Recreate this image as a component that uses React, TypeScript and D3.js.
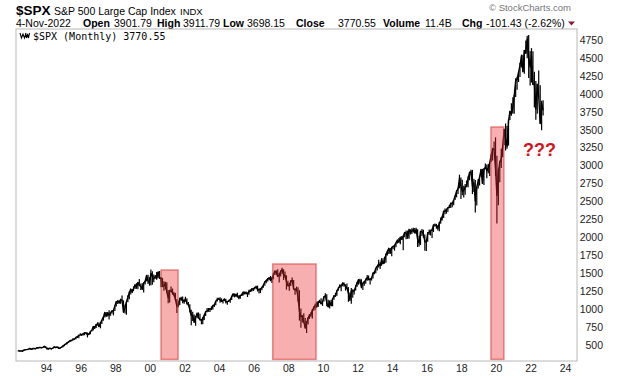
import React from "react";
import * as d3 from "d3";

// Monthly data starting July 1992 (S&P 500, $SPX)
const START_YEAR = 1992;
const START_MONTH = 6; // July (0-based)

const closes = [
  424.2, 414.0, 417.8, 418.7, 431.4, 435.7,
  438.8, 443.4, 451.7, 440.2, 450.2, 450.5, 448.1, 463.6, 458.9, 467.8, 461.8, 466.5,
  481.6, 467.1, 445.8, 450.9, 456.5, 444.3, 458.3, 475.5, 462.7, 472.4, 453.7, 459.3,
  470.4, 487.4, 500.7, 514.7, 533.4, 544.8, 562.1, 561.9, 584.4, 581.5, 605.4, 615.9,
  636.0, 640.4, 645.5, 654.2, 669.1, 670.6, 639.9, 652.0, 687.3, 705.3, 757.0, 740.7,
  786.2, 790.8, 757.1, 801.3, 848.3, 885.1, 954.3, 899.5, 947.3, 914.6, 955.4, 970.4,
  980.3, 1049.3, 1101.8, 1111.8, 1090.8, 1133.8, 1120.7, 957.3, 1017.0, 1098.7, 1163.6, 1229.2,
  1279.6, 1238.3, 1286.4, 1335.2, 1301.8, 1372.7, 1328.7, 1320.4, 1282.7, 1362.9, 1388.9, 1469.3,
  1394.5, 1366.4, 1498.6, 1452.4, 1420.6, 1454.6, 1430.8, 1517.7, 1436.5, 1429.4, 1315.2, 1320.3,
  1366.0, 1239.9, 1160.3, 1249.5, 1255.8, 1224.4, 1211.2, 1133.6, 1040.9, 1059.8, 1139.5, 1148.1,
  1130.2, 1106.7, 1147.4, 1076.9, 1067.1, 989.8, 911.6, 916.1, 815.3, 885.8, 936.3, 879.8,
  855.7, 841.2, 848.2, 916.9, 963.6, 974.5, 990.3, 1008.0, 996.0, 1050.7, 1058.2, 1111.9,
  1131.1, 1144.9, 1126.2, 1107.3, 1120.7, 1140.8, 1101.7, 1104.2, 1114.6, 1130.2, 1173.8, 1211.9,
  1181.3, 1203.6, 1180.6, 1156.9, 1191.5, 1191.3, 1234.2, 1220.3, 1228.8, 1207.0, 1249.5, 1248.3,
  1280.1, 1280.7, 1294.8, 1310.6, 1270.1, 1270.2, 1276.7, 1303.8, 1335.9, 1377.9, 1400.6, 1418.3,
  1438.2, 1406.8, 1420.9, 1482.4, 1530.6, 1503.4, 1455.3, 1474.0, 1526.8, 1549.4, 1481.1, 1468.4,
  1378.6, 1330.6, 1322.7, 1385.6, 1400.4, 1280.0, 1267.4, 1282.8, 1166.4, 968.8, 896.2, 903.3,
  825.9, 735.1, 797.9, 872.8, 919.1, 919.3, 987.5, 1020.6, 1057.1, 1036.2, 1095.6, 1115.1,
  1073.9, 1104.5, 1169.4, 1186.7, 1089.4, 1030.7, 1101.6, 1049.3, 1141.2, 1183.3, 1180.6, 1257.6,
  1286.1, 1327.2, 1325.8, 1363.6, 1345.2, 1320.6, 1292.3, 1218.9, 1131.4, 1253.3, 1247.0, 1257.6,
  1312.4, 1365.7, 1408.5, 1397.9, 1310.3, 1362.2, 1379.3, 1406.6, 1440.7, 1412.2, 1416.2, 1426.2,
  1498.1, 1514.7, 1569.2, 1597.6, 1630.7, 1606.3, 1685.7, 1633.0, 1681.6, 1756.5, 1805.8, 1848.4,
  1782.6, 1859.5, 1872.3, 1884.0, 1923.6, 1960.2, 1930.7, 2003.4, 1972.3, 2018.1, 2067.6, 2058.9,
  1995.0, 2104.5, 2067.9, 2085.5, 2107.4, 2063.1, 2103.8, 1972.2, 1920.0, 2079.4, 2080.4, 2043.9,
  1940.2, 1932.2, 2059.7, 2065.3, 2097.0, 2098.9, 2173.6, 2171.0, 2168.3, 2126.2, 2198.8, 2238.8,
  2278.9, 2363.6, 2362.7, 2384.2, 2411.8, 2423.4, 2470.3, 2471.7, 2519.4, 2575.3, 2647.6, 2673.6,
  2823.8, 2713.8, 2640.9, 2648.1, 2705.3, 2718.4, 2816.3, 2901.5, 2914.0, 2711.7, 2760.2, 2506.9,
  2704.1, 2784.5, 2834.4, 2945.8, 2752.1, 2941.8, 2980.4, 2926.5, 2976.7, 3037.6, 3141.0, 3230.8,
  3225.5, 2954.2, 2584.6, 2912.4, 3044.3, 3100.3, 3271.1, 3500.3, 3363.0, 3270.0, 3621.6, 3756.1,
  3714.2, 3811.2, 3972.9, 4181.2, 4204.1, 4297.5, 4395.3, 4522.7, 4307.5, 4605.4, 4567.0, 4766.2,
  4515.6, 4373.9, 4530.4, 4131.9, 4132.2, 3785.4, 4130.3, 3955.0, 3585.6, 3872.0, 3770.55,
];

const highs = [
  425, 425, 422, 419, 432, 442,
  442, 448, 456, 452, 455, 454, 451, 464, 463, 471, 470, 471,
  482, 482, 468, 453, 458, 459, 461, 477, 476, 474, 474, 464,
  473, 490, 505, 515, 535, 552, 564, 565, 586, 587, 608, 622,
  637, 665, 658, 664, 679, 675, 674, 668, 690, 708, 758, 765,
  791, 818, 815, 812, 849, 894, 956, 961, 961, 983, 960, 986,
  992, 1050, 1113, 1124, 1122, 1145, 1190, 1122, 1066, 1104, 1192, 1245,
  1280, 1281, 1317, 1346, 1362, 1373, 1419, 1356, 1361, 1373, 1397, 1473,
  1478, 1445, 1553, 1528, 1481, 1477, 1518, 1519, 1530, 1449, 1436, 1390,
  1383, 1376, 1268, 1269, 1316, 1287, 1239, 1226, 1140, 1111, 1163, 1173,
  1176, 1131, 1173, 1148, 1099, 1068, 990, 965, 924, 903, 954, 954,
  935, 865, 895, 919, 966, 1015, 1016, 1012, 1040, 1054, 1063, 1112,
  1159, 1159, 1164, 1150, 1128, 1146, 1143, 1110, 1132, 1142, 1188, 1218,
  1218, 1213, 1229, 1192, 1200, 1219, 1245, 1246, 1244, 1233, 1271, 1276,
  1295, 1297, 1311, 1326, 1327, 1290, 1291, 1310, 1341, 1389, 1407, 1432,
  1441, 1462, 1444, 1499, 1535, 1541, 1556, 1504, 1539, 1576, 1555, 1523,
  1471, 1396, 1369, 1405, 1440, 1404, 1292, 1314, 1304, 1264, 1007, 919,
  943, 876, 832, 888, 930, 956, 993, 1039, 1080, 1101, 1113, 1130,
  1150, 1113, 1180, 1220, 1206, 1132, 1120, 1130, 1148, 1196, 1227, 1263,
  1303, 1345, 1333, 1370, 1371, 1346, 1357, 1307, 1230, 1293, 1277, 1270,
  1334, 1378, 1420, 1422, 1415, 1363, 1392, 1427, 1475, 1470, 1434, 1448,
  1510, 1530, 1570, 1598, 1687, 1654, 1710, 1710, 1730, 1775, 1813, 1849,
  1851, 1867, 1884, 1897, 1925, 1968, 1991, 2005, 2019, 2019, 2076, 2094,
  2094, 2120, 2114, 2126, 2135, 2130, 2133, 2113, 2021, 2094, 2117, 2105,
  2039, 1963, 2073, 2111, 2104, 2121, 2178, 2194, 2188, 2169, 2214, 2278,
  2301, 2372, 2401, 2399, 2419, 2454, 2484, 2491, 2519, 2582, 2658, 2695,
  2873, 2835, 2802, 2718, 2742, 2791, 2849, 2916, 2941, 2940, 2816, 2800,
  2708, 2813, 2861, 2949, 2954, 2965, 3028, 3014, 3022, 3050, 3155, 3248,
  3337, 3394, 3137, 2955, 3068, 3233, 3280, 3514, 3588, 3550, 3646, 3760,
  3870, 3951, 3983, 4218, 4238, 4302, 4429, 4546, 4546, 4609, 4744, 4809,
  4819, 4595, 4637, 4594, 4309, 4178, 4140, 4325, 4119, 3905, 3912,
];

const lows = [
  408, 410, 407, 402, 416, 425,
  427, 431, 437, 437, 437, 442, 441, 447, 453, 458, 454, 460,
  464, 465, 436, 434, 442, 441, 444, 457, 460, 459, 449, 445,
  459, 468, 484, 499, 510, 531, 542, 552, 561, 572, 581, 597,
  594, 634, 627, 631, 636, 658, 605, 638, 650, 689, 703, 724,
  737, 773, 755, 733, 793, 837, 882, 896, 898, 855, 908, 934,
  912, 975, 1037, 1073, 1074, 1074, 1110, 957, 940, 923, 1095, 1136,
  1205, 1224, 1252, 1282, 1283, 1278, 1325, 1268, 1268, 1233, 1343, 1387,
  1350, 1326, 1333, 1339, 1373, 1422, 1410, 1431, 1420, 1305, 1315, 1255,
  1274, 1228, 1081, 1091, 1244, 1200, 1181, 1124, 945, 1026, 1054, 1114,
  1081, 1074, 1106, 1063, 1048, 953, 776, 833, 815, 768, 872, 871,
  841, 788, 789, 847, 904, 957, 962, 960, 996, 996, 1031, 1055,
  1106, 1133, 1087, 1107, 1077, 1113, 1078, 1060, 1099, 1090, 1127, 1173,
  1163, 1170, 1163, 1137, 1146, 1188, 1191, 1202, 1206, 1168, 1200, 1245,
  1245, 1253, 1272, 1286, 1245, 1219, 1224, 1263, 1297, 1327, 1361, 1386,
  1403, 1390, 1364, 1416, 1475, 1484, 1451, 1371, 1454, 1490, 1407, 1436,
  1271, 1316, 1257, 1322, 1373, 1272, 1200, 1248, 1107, 840, 741, 815,
  805, 732, 667, 784, 863, 888, 870, 978, 991, 1019, 1029, 1086,
  1071, 1045, 1105, 1173, 1040, 1029, 1010, 1040, 1039, 1131, 1173, 1187,
  1257, 1295, 1249, 1317, 1311, 1258, 1282, 1102, 1114, 1074, 1158, 1202,
  1259, 1312, 1340, 1358, 1292, 1267, 1325, 1355, 1396, 1403, 1343, 1398,
  1426, 1485, 1501, 1537, 1581, 1560, 1604, 1627, 1633, 1647, 1746, 1767,
  1770, 1737, 1834, 1815, 1862, 1915, 1931, 1905, 1964, 1821, 2001, 1973,
  1981, 1980, 2040, 2048, 2067, 2057, 2045, 1867, 1872, 1893, 2019, 1994,
  1812, 1810, 1937, 2034, 2026, 1992, 2075, 2147, 2120, 2097, 2084, 2188,
  2234, 2271, 2322, 2329, 2353, 2405, 2408, 2418, 2447, 2520, 2557, 2605,
  2683, 2533, 2585, 2554, 2594, 2698, 2698, 2796, 2865, 2603, 2631, 2346,
  2443, 2681, 2722, 2848, 2750, 2728, 2952, 2822, 2892, 2856, 3050, 3070,
  3214, 2855, 2192, 2447, 2767, 2966, 3115, 3284, 3209, 3234, 3280, 3634,
  3695, 3725, 3723, 3956, 4057, 4165, 4234, 4368, 4305, 4279, 4560, 4495,
  4222, 4115, 4157, 4124, 3811, 3637, 3721, 3955, 3584, 3492, 3698,
];

const yTicks = [500, 750, 1000, 1250, 1500, 1750, 2000, 2250, 2500, 2750, 3000, 3250, 3500, 3750, 4000, 4250, 4500, 4750];
const xTickYears = [1994, 1996, 1998, 2000, 2002, 2004, 2006, 2008, 2010, 2012, 2014, 2016, 2018, 2020, 2022, 2024];

// Highlight boxes: [start, end, top value]
const boxStarts = [new Date(2000, 9, 15), new Date(2007, 3, 1), new Date(2019, 10, 10)];
const boxEnds = [new Date(2001, 9, 10), new Date(2009, 9, 1), new Date(2020, 7, 10)];
const boxTops = [1545, 1629, 3538];
const boxBottom = 300;

// Header quote fields
const quoteLabels = ["Open", "High", "Low", "Close", "Volume", "Chg"];
const quoteValues = ["3901.79", "3911.79", "3698.15", "3770.55", "11.4B", "-101.43 (-2.62%)"];

const W = 620, H = 376;
const frame = { left: 16, top: 29, right: 577, bottom: 361 };
const labelX = [83, 157, 223, 296, 383, 462];
const valueX = [114, 183, 247, 338, 425, 486];

export default function App() {
  const x = d3.scaleTime()
    .domain([new Date(1994, 0, 1), new Date(2024, 0, 1)])
    .range([43.6, 43.6 + 30 * 17.3]);
  const y = d3.scaleLinear().domain([500, 4750]).range([345, 40]);

  const months = closes.map((c, i) => ({
    date: new Date(START_YEAR, START_MONTH + i, 15),
    c, h: highs[i], l: lows[i],
  }));

  const line = d3.line<any>().x(d => x(d.date)).y(d => y(d.c));

  const sans = "'Liberation Sans', Arial, sans-serif";
  const mono = "'DejaVu Sans Mono', monospace";

  return (
    <svg width={W} height={H} style={{ position: "absolute", left: 0, top: 0, background: "#fff" }}>
      <rect x={0} y={0} width={W} height={H} fill="#fff" />
      {/* Header */}
      <text x={16} y={15} fontFamily={sans} fontSize={13.5} fontWeight="bold" fill="#000">$SPX</text>
      <text x={54} y={14.5} fontFamily={sans} fontSize={10.5} fill="#000">S&amp;P 500 Large Cap Index</text>
      <text x={180} y={14.5} fontFamily={sans} fontSize={9.5} fill="#000">INDX</text>
      <text x={489} y={11} fontFamily={sans} fontSize={9.5} fill="#777">© StockCharts.com</text>
      <g fontFamily={sans} fontSize={10.5} fill="#000">
        <text x={16} y={26.5}>4-Nov-2022</text>
        {quoteLabels.map((l, i) => (
          <text key={l} x={labelX[i]} y={26.5} fontWeight="bold">{l}</text>
        ))}
        {quoteValues.map((v, i) => (
          <text key={v} x={valueX[i]} y={26.5}>{v}</text>
        ))}
      </g>
      <path d="M568,21.5 L575,21.5 L571.5,25.5 Z" fill="#8b1a3a" />

      {/* Frame */}
      <rect x={frame.left} y={frame.top} width={frame.right - frame.left} height={frame.bottom - frame.top}
        fill="none" stroke="#b8b8b8" strokeWidth={1} />

      {/* Legend line */}
      <path d="M20,33 l1.5,5 l1.5,-4 l1.5,4 l1.5,-5 M25.5,33 l1,5 l1,-4 l1,4 l1,-5" stroke="#000" strokeWidth={1.1} fill="none" />
      <text x={33} y={40} fontFamily={mono} fontSize={10} fill="#000">$SPX (Monthly) 3770.55</text>

      {/* Y axis labels */}
      <g fontFamily={sans} fontSize={10.5} fill="#222" textAnchor="end">
        {yTicks.map(t => (
          <text key={t} x={603} y={y(t) + 3.8}>{t}</text>
        ))}
      </g>
      {/* X axis labels */}
      <g fontFamily={sans} fontSize={10.5} fill="#222" textAnchor="middle">
        {xTickYears.map(yr => (
          <text key={yr} x={x(new Date(yr, 0, 1)) + 3} y={372}>{String(yr % 100).padStart(2, "0")}</text>
        ))}
      </g>

      {/* Price bars */}
      <g stroke="#000" strokeWidth={1.2}>
        {months.map((m, i) => (
          <line key={i} x1={x(m.date)} x2={x(m.date)} y1={y(m.l)} y2={y(m.h)} />
        ))}
      </g>
      <path d={line(months) || ""} fill="none" stroke="#000" strokeWidth={1.4} strokeLinejoin="round" />

      {/* Highlight boxes */}
      {boxStarts.map((s, i) => (
        <rect key={i} x={x(s)} y={y(boxTops[i])} width={x(boxEnds[i]) - x(s)} height={y(boxBottom) - y(boxTops[i])}
          fill="rgba(235,45,45,0.38)" stroke="rgba(215,50,50,0.55)" strokeWidth={1.5} />
      ))}

      {/* Annotation */}
      <text x={523} y={156} fontFamily={sans} fontSize={18} fontWeight="bold" fill="#d0141e">???</text>
    </svg>
  );
}
